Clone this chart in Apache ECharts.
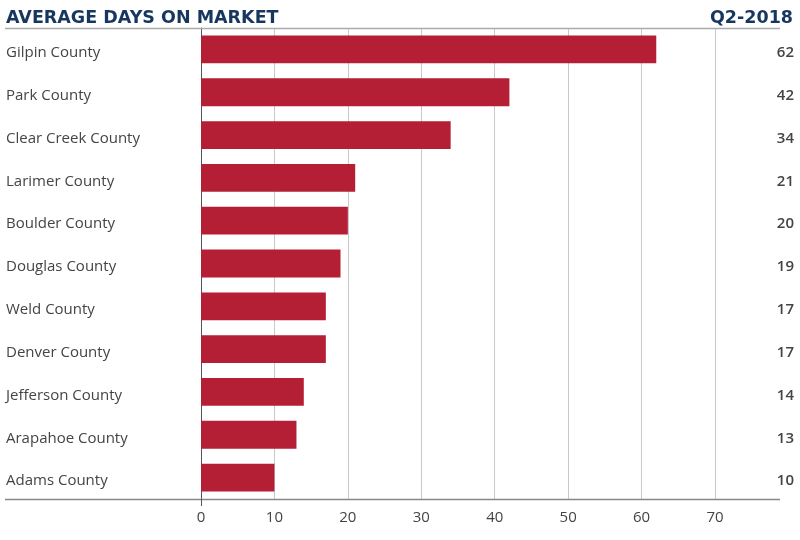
<!DOCTYPE html>
<html><head><meta charset="utf-8">
<script src="https://cdn.jsdelivr.net/npm/echarts@6/dist/echarts.min.js"></script>
<style>html,body{margin:0;padding:0;background:#fff}#c{width:800px;height:540px}</style>
</head><body><div id="c"></div>
<script>
const counties = ["Gilpin County","Park County","Clear Creek County","Larimer County","Boulder County","Douglas County","Weld County","Denver County","Jefferson County","Arapahoe County","Adams County"];
const days = [62,42,34,21,20,19,17,17,14,13,10];
const xTicks = [0,10,20,30,40,50,60,70];
const titleText = "AVERAGE DAYS ON MARKET";
const periodText = "Q2-2018";

const chart = echarts.init(document.getElementById('c'));
const font = "'Open Sans', Lato, sans-serif";
const titleFont = "'DejaVu Sans', 'Open Sans', sans-serif";
chart.setOption({
  animation: false,
  title: [
    {text: titleText, left: 1, top: 4, textStyle: {fontFamily: titleFont, fontSize: 17.5, fontWeight: 'bold', color: '#17375e'}},
    {text: periodText, right: 2, top: 4, textStyle: {fontFamily: titleFont, fontSize: 17.5, fontWeight: 'bold', color: '#17375e'}}
  ],
  grid: {left: 201, right: 85, top: 28, bottom: 41},
  xAxis: {
    type: 'value', min: xTicks[0], max: xTicks[xTicks.length-1], interval: 10,
    axisLine: {show: false}, axisTick: {show: false},
    splitLine: {show: true, lineStyle: {color: '#c9c9c9', width: 1}},
    axisLabel: {fontFamily: font, fontSize: 15, color: '#444', margin: 11}
  },
  yAxis: [
    {type: 'category', data: counties, inverse: true,
     axisLine: {show: true, lineStyle: {color: '#555', width: 1}}, axisTick: {show: false},
     axisLabel: {align: 'left', margin: 195,
       formatter: v => '{a|' + v + '}',
       rich: {a: {fontFamily: font, fontSize: 15, color: '#444', padding: [7, 0, 0, 0]}}}},
    {type: 'category', data: days.map(String), inverse: true, position: 'right',
     axisLine: {show: false}, axisTick: {show: false},
     axisLabel: {align: 'right', margin: 79,
       formatter: v => '{a|' + v + '}',
       rich: {a: {fontFamily: font, fontSize: 15, fontWeight: 600, color: '#444', padding: [7, 0, 0, 0]}}}}
  ],
  graphic: [
    {type: 'line', shape: {x1: 5, y1: 28.5, x2: 780, y2: 28.5}, style: {stroke: '#aaa', lineWidth: 1.5}, z: 10},
    {type: 'line', shape: {x1: 5, y1: 499.5, x2: 780, y2: 499.5}, style: {stroke: '#888', lineWidth: 1.5}, z: 10},
    {type: 'line', shape: {x1: 201.5, y1: 499, x2: 201.5, y2: 506}, style: {stroke: '#555', lineWidth: 1}, z: 10}
  ],
  series: [{
    type: 'bar', data: days, yAxisIndex: 0, barWidth: '65%',
    itemStyle: {color: '#b41f36'}
  }]
});
</script></body></html>
